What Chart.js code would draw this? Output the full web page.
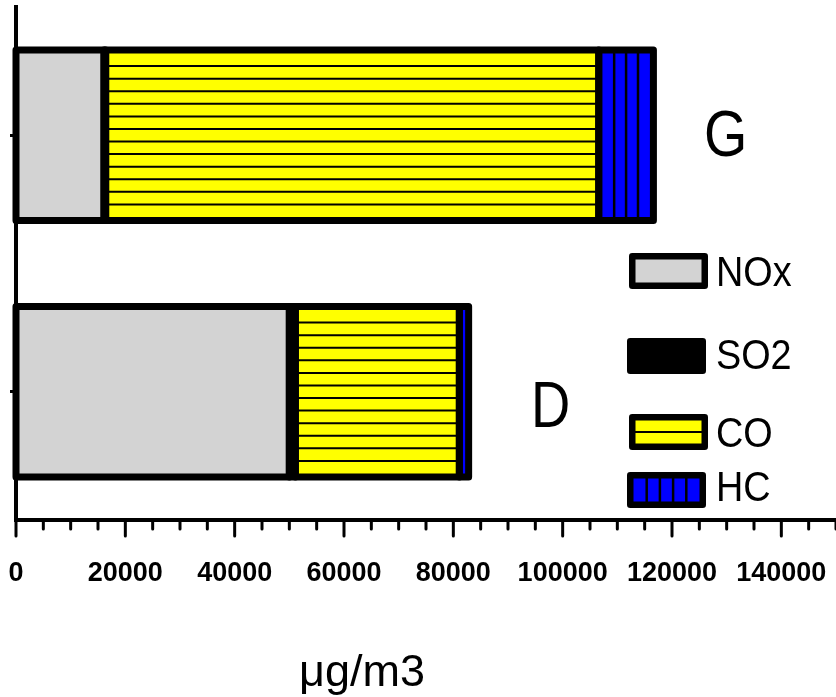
<!DOCTYPE html>
<html>
<head>
<meta charset="utf-8">
<script src="https://cdn.jsdelivr.net/npm/chart.js@4.4.0/dist/chart.umd.min.js"></script>
<style>
  html, body { margin: 0; padding: 0; background: #fff; }
  canvas { display: block; }
</style>
</head>
<body>
<canvas id="chart" width="836" height="697"></canvas>
<script>
// emissions per fuel type, in ug/m3
const categories = ['G', 'D'];
const seriesNames = ['NOx', 'SO2', 'CO', 'HC'];
const noxValues = [16100, 50000];
const so2Values = [300, 1100];
const coValues = [90200, 30000];
const hcValues = [10000, 1700];
const xTickLabels = [0, 20000, 40000, 60000, 80000, 100000, 120000, 140000];

const FONT = '"Liberation Sans", Arial, sans-serif';
const GRAY = '#d3d3d3';
const YELLOW = '#ffff00';
const BLUE = '#0000ff';

// stripes inside a box: 'h' = horizontal lines, 'v' = vertical lines
function drawHatch(ctx, left, top, w, h, hatch, gap, inset) {
    if (!hatch) return;
    ctx.save();
    ctx.beginPath();
    ctx.rect(left, top, w, h);
    ctx.clip();
    ctx.strokeStyle = '#000';
    ctx.beginPath();
    if (hatch === 'h') {
        const innerTop = top + inset;
        const innerH = h - inset * 2;
        const n = Math.max(1, Math.round(innerH / gap));
        ctx.lineWidth = 2;
        for (let k = 1; k < n; k++) {
            const y = innerTop + k * innerH / n;
            ctx.moveTo(left, y);
            ctx.lineTo(left + w, y);
        }
    } else {
        const innerLeft = left + inset;
        const innerW = w - inset * 2;
        const n = Math.max(1, Math.round(innerW / gap));
        ctx.lineWidth = 2.5;
        for (let k = 1; k < n; k++) {
            const x = innerLeft + k * innerW / n;
            ctx.moveTo(x, top);
            ctx.lineTo(x, top + h);
        }
    }
    ctx.stroke();
    ctx.restore();
}

function condensedText(ctx, text, x, y, size, squeeze) {
    ctx.save();
    ctx.font = size + 'px ' + FONT;
    ctx.textAlign = 'left';
    ctx.textBaseline = 'alphabetic';
    ctx.translate(x, y);
    ctx.scale(squeeze, 1);
    ctx.fillStyle = '#000';
    ctx.fillText(text, 0, 0);
    ctx.restore();
}

const decor = {
    id: 'decor',
    afterDatasetsDraw(chart) {
        const ctx = chart.ctx;
        const boxes = [];
        chart.data.datasets.forEach(function (ds, i) {
            chart.getDatasetMeta(i).data.forEach(function (bar) {
                const p = bar.getProps(['x', 'y', 'base', 'height'], true);
                boxes.push({
                    left: Math.min(p.base, p.x),
                    top: p.y - p.height / 2,
                    w: Math.abs(p.x - p.base),
                    h: p.height,
                    hatch: ds.hatch
                });
            });
        });
        boxes.forEach(function (b) {
            drawHatch(ctx, b.left, b.top, b.w, b.h, b.hatch, b.hatch === 'h' ? 12.4 : 12, 3.5);
        });
        ctx.save();
        ctx.strokeStyle = '#000';
        ctx.lineWidth = 7;
        ctx.lineJoin = 'round';
        boxes.forEach(function (b) {
            ctx.strokeRect(b.left, b.top, b.w, b.h);
        });
        ctx.restore();
    },
    afterDraw(chart) {
        const ctx = chart.ctx;
        const xs = chart.scales.x;
        const axisY = chart.chartArea.bottom;

        // major and minor tick marks under the x axis
        ctx.save();
        ctx.strokeStyle = '#000';
        ctx.lineWidth = 3;
        ctx.lineCap = 'round';
        ctx.beginPath();
        xs.ticks.forEach(function (t) {
            const px = xs.getPixelForValue(t.value);
            const len = xTickLabels.includes(t.value) ? 16 : 9;
            ctx.moveTo(px, axisY);
            ctx.lineTo(px, axisY + len);
        });
        ctx.stroke();
        ctx.restore();

        // legend
        const fills = [GRAY, '#000', YELLOW, BLUE];
        const hatches = [null, null, 'h', 'v'];
        const boxX = [629, 627, 629, 627];
        const boxY = [253, 338, 414, 472];
        const textY = [286, 369, 447, 501];
        seriesNames.forEach(function (name, i) {
            const x = boxX[i], y = boxY[i], w = 79, h = 36;
            ctx.save();
            ctx.fillStyle = fills[i];
            ctx.fillRect(x + 3, y + 3, w - 6, h - 6);
            drawHatch(ctx, x, y, w, h, hatches[i], i === 3 ? 13 : 12.4, 6.5);
            ctx.strokeStyle = '#000';
            ctx.lineWidth = 6.5;
            ctx.lineJoin = 'round';
            ctx.strokeRect(x + 3.25, y + 3.25, w - 6.5, h - 6.5);
            ctx.restore();
            condensedText(ctx, name, 716, textY[i], 42, 0.9);
        });

        // fuel letters beside the bars
        condensedText(ctx, categories[0], 704, 156, 64, 0.87);
        condensedText(ctx, categories[1], 531, 427, 64, 0.85);

        // unit under the axis
        ctx.save();
        ctx.font = '45px ' + FONT;
        ctx.textAlign = 'center';
        ctx.fillStyle = '#000';
        ctx.fillText('\u03bcg/m3', 362, 686);
        ctx.restore();
    }
};

const barStyle = { borderWidth: 0, barPercentage: 0.665, categoryPercentage: 1 };

new Chart(document.getElementById('chart'), {
    type: 'bar',
    data: {
        labels: categories,
        datasets: [
            Object.assign({ label: seriesNames[0], data: noxValues, backgroundColor: GRAY }, barStyle),
            Object.assign({ label: seriesNames[1], data: so2Values, backgroundColor: '#000' }, barStyle),
            Object.assign({ label: seriesNames[2], data: coValues, backgroundColor: YELLOW, hatch: 'h' }, barStyle),
            Object.assign({ label: seriesNames[3], data: hcValues, backgroundColor: BLUE, hatch: 'v' }, barStyle)
        ]
    },
    options: {
        indexAxis: 'y',
        responsive: false,
        devicePixelRatio: 1,
        animation: false,
        layout: { padding: { top: 7, left: 0, right: 0, bottom: 0 } },
        plugins: { legend: { display: false }, tooltip: { enabled: false } },
        scales: {
            x: {
                stacked: true,
                min: 0,
                max: 150000,
                grid: { display: false, drawTicks: false },
                border: { display: true, width: 4, color: '#000' },
                ticks: {
                    stepSize: 5000,
                    autoSkip: false,
                    maxRotation: 0,
                    padding: 37,
                    color: '#000',
                    font: { family: FONT, size: 27, weight: 'bold' },
                    callback: function (v) { return xTickLabels.includes(v) ? String(v) : ''; }
                },
                afterFit: function (scale) {
                    scale.height = 177;
                    scale.paddingLeft = 0;
                    scale.paddingRight = 0;
                }
            },
            y: {
                stacked: true,
                grid: { display: true, drawOnChartArea: false, offset: false, tickLength: 6, tickWidth: 3, tickColor: '#000' },
                border: { display: true, width: 4, color: '#000' },
                ticks: { display: false },
                afterFit: function (scale) {
                    scale.width = 16;
                    scale.paddingTop = 0;
                    scale.paddingBottom = 0;
                }
            }
        }
    },
    plugins: [decor]
});
</script>
</body>
</html>
